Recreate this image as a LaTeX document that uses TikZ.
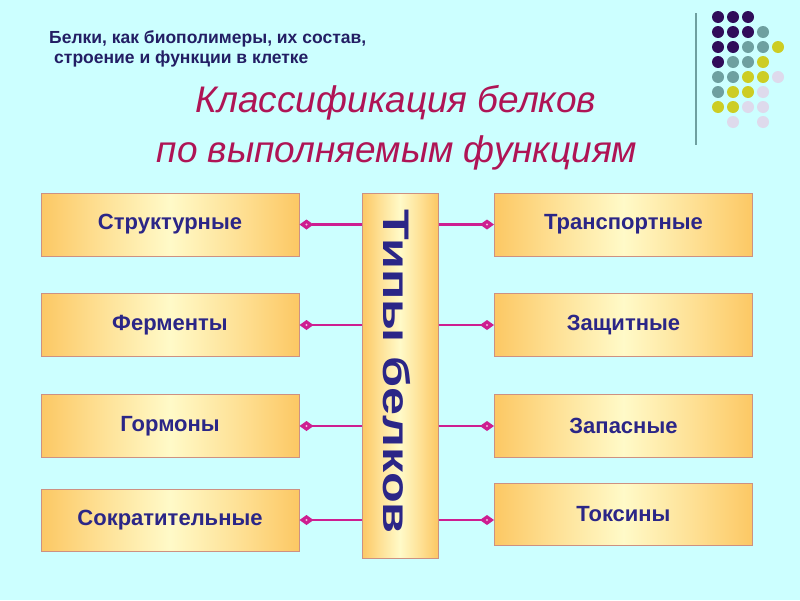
\documentclass[tikz,border=0pt]{standalone}
\usepackage{fontspec}
\setmainfont{Liberation Sans}
\usetikzlibrary{arrows.meta}
\definecolor{bg}{RGB}{204,255,255}
\definecolor{navy}{RGB}{35,30,100}
\definecolor{boxtext}{RGB}{43,38,135}
\definecolor{titlec}{RGB}{175,20,85}
\definecolor{connc}{RGB}{205,30,145}
\definecolor{boxedge}{RGB}{205,145,130}
\definecolor{boxout}{RGB}{252,200,100}
\definecolor{boxmid}{RGB}{254,225,150}
\definecolor{boxin}{RGB}{255,250,200}
\definecolor{dpurple}{RGB}{48,12,90}
\definecolor{dteal}{RGB}{110,160,160}
\definecolor{dyellow}{RGB}{205,205,35}
\definecolor{dlav}{RGB}{222,218,236}
\pgfdeclarehorizontalshading{boxshade}{100bp}{color(0bp)=(boxout); color(25bp)=(boxout); color(37bp)=(boxmid); color(50bp)=(boxin); color(63bp)=(boxmid); color(75bp)=(boxout); color(100bp)=(boxout)}
\begin{document}
\begin{tikzpicture}[x=1pt,y=-1pt,
  fbox/.style={draw=boxedge, line width=1pt, shading=boxshade, minimum width=258pt, minimum height=63pt, inner sep=0pt, font=\fontsize{22}{25}\selectfont\bfseries, text=boxtext},
  conn/.style={draw=connc, line width=2.2pt, -{Diamond[width=10pt,length=14pt]}},
  hole/.style={fill=white!70!connc},
  header/.style={anchor=base west, inner sep=0pt, font=\fontsize{17.5}{20}\selectfont\bfseries, text=navy},
  title/.style={anchor=base, inner sep=0pt, font=\fontsize{37}{40}\selectfont\itshape, text=titlec},
  dot/.style={radius=6pt}]
\fill[bg] (0,0) rectangle (800,600);
% header
\node[header] (h1) at (49,43) {Белки, как биополимеры, их состав,};
\node[header] (h2) at (54,63) {строение и функции в клетке};
% title
\node[title] (t1) at (396,112) {Классификация белков};
\node[title, xscale=1] (t2) at (397,162) {по выполняемым функциям};
% dots
\draw[dteal, line width=2pt] (696,13) -- (696,145);
\foreach \c/\r in {0/0,1/0,2/0,0/1,1/1,2/1,0/2,1/2,0/3}
  \fill[dpurple] (718+15*\c,17+15*\r) circle[dot];
\foreach \c/\r in {3/1,2/2,3/2,1/3,2/3,0/4,1/4,0/5}
  \fill[dteal] (718+15*\c,17+15*\r) circle[dot];
\foreach \c/\r in {4/2,3/3,2/4,3/4,1/5,2/5,0/6,1/6}
  \fill[dyellow] (718+15*\c,17+15*\r) circle[dot];
\foreach \c/\r in {4/4,3/5,2/6,3/6,1/7,3/7}
  \fill[dlav] (718+15*\c,17+15*\r) circle[dot];
% boxes
\node[fbox] (l1) at (170,224.5) {Структурные};
\node[fbox] (l2) at (170,325) {Ферменты};
\node[fbox] (l3) at (170,426) {Гормоны};
\node[fbox, minimum height=62pt] (l4) at (170,520) {Сократительные};
\node[fbox] (r1) at (623.5,224.5) {Транспортные};
\node[fbox] (r2) at (623.5,325) {Защитные};
\node[fbox] (r3) at (623.5,426) {Запасные};
\node[fbox, minimum height=62pt] (r4) at (623.5,514) {Токсины};
\node[fbox, minimum width=76pt, minimum height=365pt] (c) at (400,375.5) {};
\node[rotate=-90, anchor=base, inner sep=0pt, font=\fontsize{37}{40}\selectfont\bfseries, text=boxtext] (ct) at (383,371.5) {\scalebox{1.36}[1]{Типы белков}};
% connectors
\foreach \n in {l1,l2,l3,l4}{
  \draw[conn] (c.west |- \n.east) -- (\n.east);
  \fill[hole] ([xshift=7pt]\n.east) circle (1.2pt);
}
\foreach \n in {r1,r2,r3}{
  \draw[conn] (c.east |- \n.west) -- (\n.west);
  \fill[hole] ([xshift=-7pt]\n.west) circle (1.2pt);
}
\coordinate (r4in) at (r4.west |- l4.east);
\draw[conn] (c.east |- r4in) -- (r4in);
\fill[hole] ([xshift=-7pt]r4in) circle (1.2pt);
\end{tikzpicture}
\end{document}
